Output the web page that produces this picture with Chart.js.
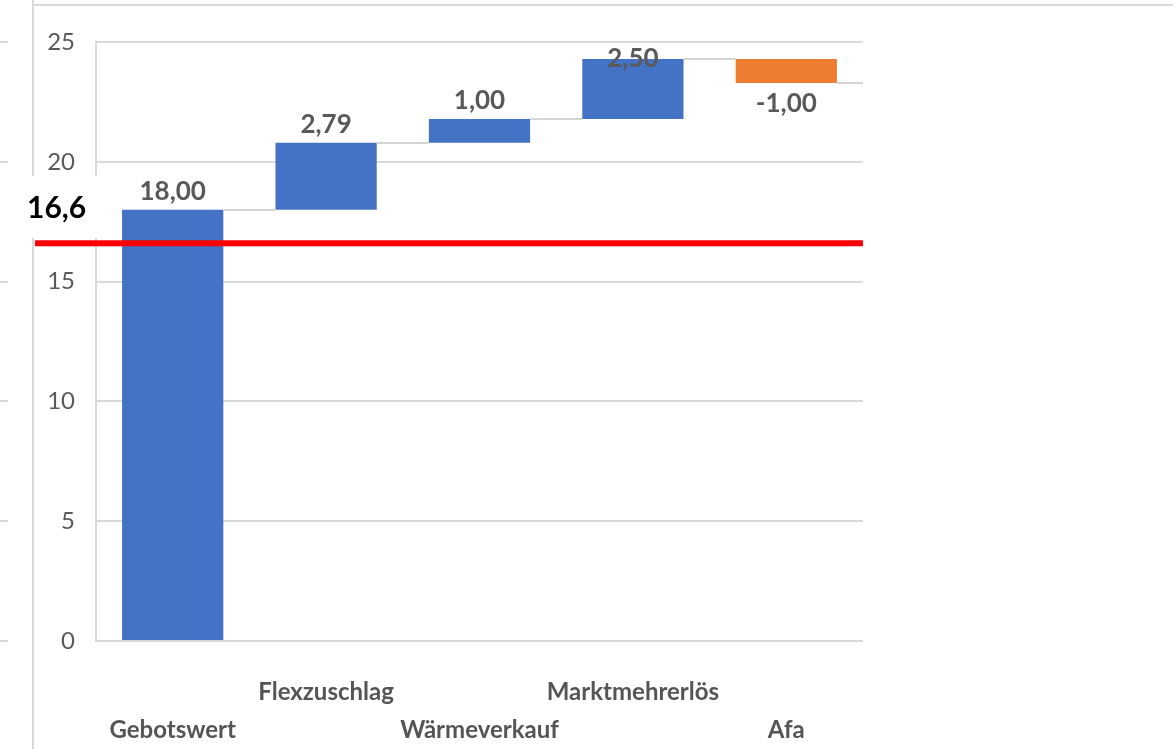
<!DOCTYPE html>
<html>
<head>
<meta charset="utf-8">
<script src="https://cdn.jsdelivr.net/npm/chart.js@4.4.0/dist/chart.umd.min.js"></script>
<style>
  html, body { margin: 0; padding: 0; background: #fff; }
  #wrap { width: 1173px; height: 749px; position: relative; }
</style>
</head>
<body>
<div id="wrap"><canvas id="waterfallChart"></canvas></div>
<script>
const categories = ['Gebotswert', 'Flexzuschlag', 'Wärmeverkauf', 'Marktmehrerlös', 'Afa'];
const deltas = [18.00, 2.79, 1.00, 2.50, -1.00];
const yTicks = [0, 5, 10, 15, 20, 25];
const referenceValue = 16.6;
const referenceLabel = '16,6';

// running totals -> floating bars [start, end]
const floating = [];
let total = 0;
deltas.forEach(d => {
    floating.push([total, total + d]);
    total += d;
});

const fmt = v => v.toFixed(2).replace('.', ',');

const waterfallExtras = {
    id: 'waterfallExtras',
    beforeDraw(chart) {
        const ctx = chart.ctx;
        const y = chart.scales.y;
        ctx.save();
        ctx.fillStyle = '#fff';
        ctx.fillRect(0, 0, chart.width, chart.height);
        // window frame
        ctx.strokeStyle = '#d9d9d9';
        ctx.lineWidth = 2;
        ctx.beginPath();
        ctx.moveTo(33, 0);
        ctx.lineTo(33, chart.height);
        ctx.moveTo(34, 5);
        ctx.lineTo(chart.width, 5);
        ctx.stroke();
        // stub gridlines at the far left
        yTicks.forEach(v => {
            const py = Math.round(y.getPixelForValue(v));
            ctx.beginPath();
            ctx.moveTo(0, py);
            ctx.lineTo(8, py);
            ctx.stroke();
        });
        ctx.restore();
    },
    afterDatasetsDraw(chart) {
        const ctx = chart.ctx;
        const y = chart.scales.y;
        const area = chart.chartArea;
        const bars = chart.getDatasetMeta(0).data;
        ctx.save();

        // connectors between bars
        ctx.strokeStyle = '#d4d4d4';
        ctx.lineWidth = 2;
        bars.forEach((bar, i) => {
            const py = Math.round(y.getPixelForValue(floating[i][1]));
            const x0 = bar.x + bar.width / 2;
            const x1 = i < bars.length - 1 ? bars[i + 1].x - bars[i + 1].width / 2 : area.right;
            ctx.beginPath();
            ctx.moveTo(x0, py);
            ctx.lineTo(x1, py);
            ctx.stroke();
        });

        // value labels
        ctx.fillStyle = '#595959';
        ctx.font = 'bold 26px Lato';
        ctx.textAlign = 'center';
        ctx.textBaseline = 'middle';
        bars.forEach((bar, i) => {
            const d = deltas[i];
            const edge = y.getPixelForValue(floating[i][1]);
            let ly;
            if (d >= 0) {
                ly = Math.max(edge - 18, area.top + 17);
            } else {
                ly = edge + 21;
            }
            ctx.fillText(fmt(d), bar.x, ly);
        });

        // reference label on white box
        ctx.fillStyle = '#fff';
        ctx.fillRect(0, 176, 116, 62);
        ctx.fillStyle = '#000';
        ctx.font = 'bold 30px Lato';
        ctx.textAlign = 'left';
        ctx.fillText(referenceLabel, 27, 208);

        // reference line
        const ry = y.getPixelForValue(referenceValue);
        ctx.strokeStyle = '#ff0000';
        ctx.lineWidth = 6;
        ctx.beginPath();
        ctx.moveTo(35, ry);
        ctx.lineTo(area.right, ry);
        ctx.stroke();
        ctx.restore();
    }
};

const ctx = document.getElementById('waterfallChart').getContext('2d');
new Chart(ctx, {
    type: 'bar',
    data: {
        labels: categories,
        datasets: [{
            data: floating,
            backgroundColor: deltas.map(d => d >= 0 ? '#4472C4' : '#ED7D31'),
            borderWidth: 0,
            categoryPercentage: 1,
            barPercentage: 0.66
        }]
    },
    options: {
        responsive: true,
        maintainAspectRatio: false,
        animation: false,
        layout: {
            padding: { left: 0, right: 310, top: 42, bottom: 0 }
        },
        plugins: {
            legend: { display: false },
            tooltip: { enabled: false }
        },
        scales: {
            x: {
                grid: { display: false },
                border: { display: false },
                ticks: {
                    color: '#555555',
                    font: { family: 'Lato', size: 24, weight: 'bold', lineHeight: 38 / 24 },
                    padding: 24,
                    maxRotation: 0,
                    autoSkip: false,
                    // staggered labels: odd categories on the upper line
                    callback: (v, i) => i % 2 ? [categories[i], ''] : ['', categories[i]]
                },
                afterFit: s => { s.height = 108; }
            },
            y: {
                min: 0,
                max: 25,
                afterBuildTicks: s => { s.ticks = yTicks.map(v => ({ value: v })); },
                grid: { color: '#d9d9d9', lineWidth: 2, drawTicks: false },
                border: { display: true, color: '#d9d9d9', width: 2 },
                ticks: {
                    color: '#595959',
                    font: { family: 'Lato', size: 24 },
                    padding: 21
                },
                afterFit: s => { s.width = 96; }
            }
        }
    },
    plugins: [waterfallExtras]
});
</script>
</body>
</html>
